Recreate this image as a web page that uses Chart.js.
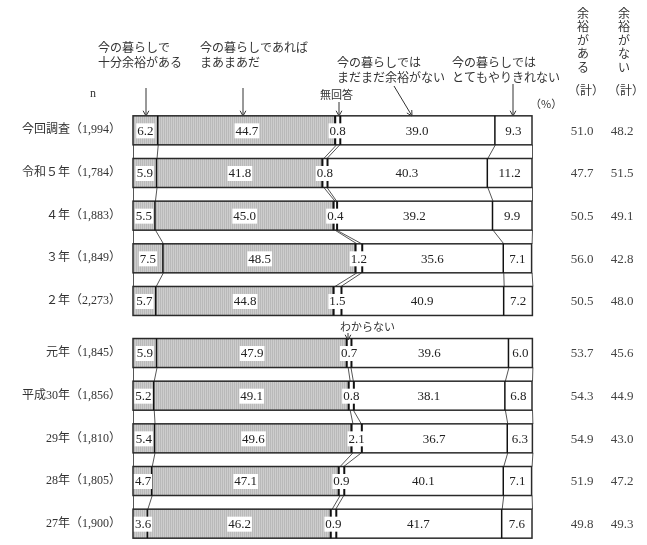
<!DOCTYPE html>
<html>
<head>
<meta charset="utf-8">
<script src="https://cdn.jsdelivr.net/npm/chart.js@4"></script>
<style>
  html, body { margin: 0; padding: 0; background: #fff; }
</style>
</head>
<body>
<canvas id="miGrafico" width="647" height="545"></canvas>
<script>
// datos (%)
let categorias = ['今回調査（1,994）', '令和５年（1,784）', '４年（1,883）', '３年（1,849）', '２年（2,273）',
                  '元年（1,845）', '平成30年（1,856）', '29年（1,810）', '28年（1,805）', '27年（1,900）'];
let juubun   = [6.2, 5.9, 5.5, 7.5, 5.7, 5.9, 5.2, 5.4, 4.7, 3.6];
let maamaa   = [44.7, 41.8, 45.0, 48.5, 44.8, 47.9, 49.1, 49.6, 47.1, 46.2];
let mukaitou = [0.8, 0.8, 0.4, 1.2, 1.5, 0.7, 0.8, 2.1, 0.9, 0.9];
let madamada = [39.0, 40.3, 39.2, 35.6, 40.9, 39.6, 38.1, 36.7, 40.1, 41.7];
let totemo   = [9.3, 11.2, 9.9, 7.1, 7.2, 6.0, 6.8, 6.3, 7.1, 7.6];
let yoyuAru  = [51.0, 47.7, 50.5, 56.0, 50.5, 53.7, 54.3, 54.9, 51.9, 49.8];
let yoyuNai  = [48.2, 51.5, 49.1, 42.8, 48.0, 45.6, 44.9, 43.0, 47.2, 49.3];

let serie = [juubun, maamaa, mukaitou, madamada, totemo];

// fila 5 en adelante (元年) va separada un poco mas
let fila = (i) => i + (i >= 5 ? 0.22 : 0);
let corte = 4; // no hay lineas entre 2年 y 元年

let fuenteJP = "'Noto Sans CJK JP', sans-serif";
let fuenteNum = "'Liberation Serif', 'Noto Sans CJK JP', serif";

// trama gris
let trama = (() => {
    let c = document.createElement('canvas');
    c.width = 2; c.height = 2;
    let g = c.getContext('2d');
    g.fillStyle = '#cdcdcd'; g.fillRect(0, 0, 2, 2);
    g.fillStyle = '#b9b9b9'; g.fillRect(0, 0, 1, 2);
    return g.createPattern(c, 'repeat');
})();

let flecha = (ctx, x1, y1, x2, y2) => {
    ctx.save();
    ctx.strokeStyle = '#333';
    ctx.lineWidth = 1;
    ctx.beginPath();
    ctx.moveTo(x1, y1);
    ctx.lineTo(x2, y2);
    let a = Math.atan2(y2 - y1, x2 - x1);
    let s = 6;
    ctx.moveTo(x2 - s * Math.cos(a - 0.5), y2 - s * Math.sin(a - 0.5));
    ctx.lineTo(x2, y2);
    ctx.lineTo(x2 - s * Math.cos(a + 0.5), y2 - s * Math.sin(a + 0.5));
    ctx.stroke();
    ctx.restore();
};

let etiqueta = (ctx, txt, x, y, fondo) => {
    ctx.font = '13px ' + fuenteNum;
    let w = ctx.measureText(txt).width;
    if (fondo) {
        ctx.fillStyle = '#fff';
        ctx.fillRect(x - w / 2 - 1, y - 8, w + 2, 15);
    }
    ctx.fillStyle = '#222';
    ctx.textAlign = 'center';
    ctx.textBaseline = 'middle';
    ctx.fillText(txt, x, y);
};

let barras = {
    id: 'barras',
    afterDatasetsDraw(chart) {
        let ctx = chart.ctx;
        let metas = serie.map((s, k) => chart.getDatasetMeta(k));
        let filas = categorias.map((c, i) => {
            let els = metas.map(m => m.data[i]);
            let h = els[0].height;
            return {
                top: els[0].y - h / 2,
                bottom: els[0].y + h / 2,
                y: els[0].y,
                bordes: [els[0].base].concat(els.map(e => e.x))
            };
        });
        ctx.save();
        // lineas de union entre barras
        ctx.strokeStyle = '#555';
        ctx.lineWidth = 1;
        for (let i = 0; i < filas.length - 1; i++) {
            if (i === corte) continue;
            let a = filas[i], b = filas[i + 1];
            for (let k = 0; k < a.bordes.length; k++) {
                ctx.beginPath();
                ctx.moveTo(a.bordes[k] + 0.5, a.bottom);
                ctx.lineTo(b.bordes[k] + 0.5, b.top);
                ctx.stroke();
            }
        }
        // contorno y divisiones
        filas.forEach((f) => {
            let x0 = f.bordes[0], x5 = f.bordes[5];
            ctx.strokeStyle = '#2a2a2a';
            ctx.lineWidth = 1.5;
            ctx.strokeRect(x0, f.top, x5 - x0, f.bottom - f.top);
            [1, 2, 3, 4].forEach(k => {
                ctx.lineWidth = (k === 2 || k === 3) ? 2 : 1.5;
                ctx.strokeStyle = '#111';
                let x = f.bordes[k] + (k === 2 ? -1 : k === 3 ? 1 : 0);
                ctx.beginPath();
                ctx.moveTo(x, f.top);
                ctx.lineTo(x, f.bottom);
                ctx.stroke();
            });
        });
        // valores
        filas.forEach((f, i) => {
            serie.forEach((s, k) => {
                let xa = f.bordes[k], xb = f.bordes[k + 1];
                let cx = (xa + xb) / 2;
                let txt = s[i].toFixed(1);
                if (k === 0) cx = Math.max(cx, xa + 10);
                etiqueta(ctx, txt, cx, f.y + 1, k < 3);
            });
            ctx.font = '13px ' + fuenteNum;
            ctx.fillStyle = '#444';
            ctx.textAlign = 'center';
            ctx.fillText(yoyuAru[i].toFixed(1), 582, f.y + 1);
            ctx.fillText(yoyuNai[i].toFixed(1), 622, f.y + 1);
            // nombre de la fila
            ctx.font = '12px ' + fuenteNum;
            ctx.fillStyle = '#333';
            ctx.textAlign = 'right';
            ctx.fillText(categorias[i], 121, f.y);
        });
        ctx.restore();
    },
    afterDraw(chart) {
        let ctx = chart.ctx;
        ctx.save();
        ctx.fillStyle = '#333';
        ctx.textBaseline = 'middle';
        ctx.textAlign = 'left';
        ctx.font = '12px ' + fuenteJP;
        ctx.fillText('今の暮らしで', 98, 47);
        ctx.fillText('十分余裕がある', 98, 62);
        ctx.fillText('今の暮らしであれば', 200, 47);
        ctx.fillText('まあまあだ', 200, 62);
        ctx.fillText('今の暮らしでは', 337, 62);
        ctx.fillText('まだまだ余裕がない', 337, 77);
        ctx.fillText('今の暮らしでは', 452, 62);
        ctx.fillText('とてもやりきれない', 452, 77);
        ctx.font = '11px ' + fuenteJP;
        ctx.fillText('無回答', 320, 95);
        ctx.fillText('わからない', 340, 327);
        ctx.fillText('（%）', 530, 104);
        ctx.font = '12px ' + fuenteNum;
        ctx.fillText('n', 90, 94);
        flecha(ctx, 146, 88, 146, 116);
        flecha(ctx, 243, 88, 243, 116);
        flecha(ctx, 339, 102, 339, 116);
        flecha(ctx, 394, 86, 412, 116);
        flecha(ctx, 513, 84, 513, 116);
        flecha(ctx, 348, 333, 348, 340);
        // encabezados verticales
        ctx.font = '12px ' + fuenteJP;
        ctx.textAlign = 'center';
        ['余', '裕', 'が', 'あ', 'る'].forEach((c, j) => ctx.fillText(c, 583, 13 + j * 13.5));
        ['余', '裕', 'が', 'な', 'い'].forEach((c, j) => ctx.fillText(c, 624, 13 + j * 13.5));
        ctx.fillText('（計）', 586, 90);
        ctx.fillText('（計）', 626, 90);
        ctx.restore();
    }
};

let colores = [trama, trama, '#ffffff', '#ffffff', '#ffffff'];

let ctx = document.getElementById('miGrafico').getContext('2d');
let miGrafico = new Chart(ctx, {
    type: 'bar',
    data: {
        datasets: serie.map((s, k) => ({
            data: s.map((v, i) => ({ x: v, y: fila(i) })),
            backgroundColor: colores[k],
            borderWidth: 0,
            barThickness: 29
        }))
    },
    options: {
        indexAxis: 'y',
        responsive: false,
        animation: false,
        devicePixelRatio: 1,
        layout: { padding: { left: 133, right: 115, top: 109, bottom: 0 } },
        scales: {
            x: { type: 'linear', min: 0, max: 100, stacked: true, display: false },
            y: { type: 'linear', reverse: true, min: -0.5, max: 9.72, stacked: true, offset: false, display: false }
        },
        plugins: {
            legend: { display: false },
            tooltip: { enabled: false }
        }
    },
    plugins: [barras]
});
</script>
</body>
</html>
